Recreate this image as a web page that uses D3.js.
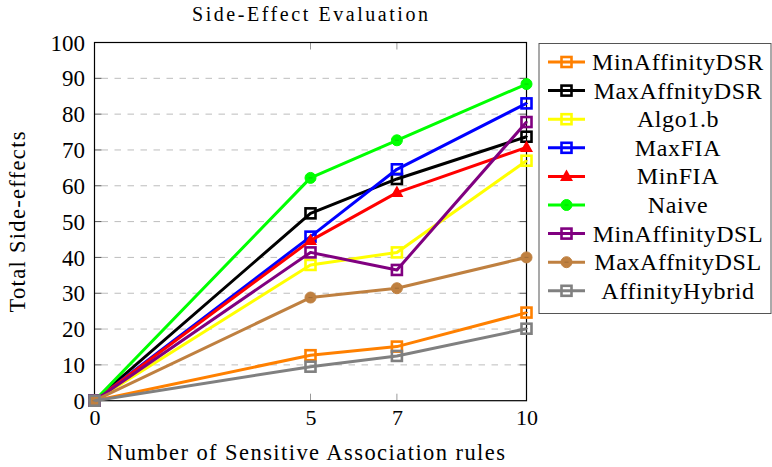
<!DOCTYPE html>
<html><head><meta charset="utf-8">
<script src="https://cdn.jsdelivr.net/npm/d3@7"></script>
<style>body{margin:0;background:#fff;}</style>
</head><body>
<svg id="c" width="772" height="467"></svg>
<script>
const FONT = "'Liberation Serif', 'Times New Roman', serif";
const xValues = [0, 5, 7, 10];
const xTicks = [0, 5, 7, 10];
const yTicks = [0, 10, 20, 30, 40, 50, 60, 70, 80, 90, 100];
const seriesNames = ["MinAffinityDSR","MaxAffnityDSR","Algo1.b","MaxFIA","MinFIA","Naive","MinAffinityDSL","MaxAffnityDSL","AffinityHybrid"];
const seriesColors = ["#ff8000","#000000","#ffff00","#0000ff","#ff0000","#00ff00","#800080","#bf8040","#808080"];
const seriesMarkers = ["square","square","square","square","triangle","circle","square","circle","square"];
const minAffinityDSR = [0, 12.7, 15.1, 24.6];
const maxAffnityDSR  = [0, 52.3, 61.9, 73.7];
const algo1b         = [0, 37.9, 41.4, 67.0];
const maxFIA         = [0, 45.8, 64.6, 83.0];
const minFIA         = [0, 44.7, 58.1, 70.7];
const naive          = [0, 62.2, 72.7, 88.4];
const minAffinityDSL = [0, 41.4, 36.5, 77.8];
const maxAffnityDSL  = [0, 28.8, 31.4, 40.0];
const affinityHybrid = [0, 9.5, 12.5, 20.1];
const seriesValues = [minAffinityDSR, maxAffnityDSR, algo1b, maxFIA, minFIA, naive, minAffinityDSL, maxAffnityDSL, affinityHybrid];

const svg = d3.select("#c");
const L = 94.5, R = 526.5, T = 42.5, B = 400.7;
const x = d3.scaleLinear().domain([0, 10]).range([L, R]);
const y = d3.scaleLinear().domain([0, 100]).range([B, T]);

// grid
svg.append("g").selectAll("line").data(yTicks.filter(d => d > 0 && d < 100)).join("line")
  .attr("x1", L + 7).attr("x2", R - 7).attr("y1", d => y(d)).attr("y2", d => y(d))
  .attr("stroke", "#bdbdbd").attr("stroke-width", 1).attr("stroke-dasharray", "6.5,6.5");

// axes
const ax = d3.axisBottom(x).tickValues(xTicks).tickSize(0).tickPadding(24).tickFormat(d3.format("d"));
const gx = svg.append("g").attr("transform", `translate(0,${B})`).call(ax);
gx.attr("font-family", FONT).attr("font-size", 22);
gx.select(".domain").remove();
gx.selectAll("text").attr("dy", "0");
const ay = d3.axisLeft(y).tickValues(yTicks).tickSize(0).tickPadding(9.5);
const gy = svg.append("g").attr("transform", `translate(${L},0)`).call(ay);
gy.attr("font-family", FONT).attr("font-size", 23);
gy.select(".domain").remove();
gy.selectAll("text").attr("dy", "0.33em");

// inner ticks
const tk = svg.append("g").attr("stroke", "#555").attr("stroke-width", 1);
yTicks.filter(d => d > 0 && d < 100).forEach(d => {
  tk.append("line").attr("x1", L).attr("x2", L + 7).attr("y1", y(d)).attr("y2", y(d));
  tk.append("line").attr("x1", R).attr("x2", R - 7).attr("y1", y(d)).attr("y2", y(d));
});
xTicks.filter(d => d > 0 && d < 10).forEach(d => {
  tk.append("line").attr("x1", x(d)).attr("x2", x(d)).attr("y1", B).attr("y2", B - 7).attr("stroke", "#999");
  tk.append("line").attr("x1", x(d)).attr("x2", x(d)).attr("y1", T).attr("y2", T + 7).attr("stroke", "#999");
});

svg.append("rect").attr("x", L).attr("y", T).attr("width", R - L).attr("height", B - T)
  .attr("fill", "none").attr("stroke", "#000").attr("stroke-width", 1.2);

// lines and markers
const line = d3.line().x((d, i) => x(xValues[i])).y(d => y(d));
function marker(g, type, color, cx, cy) {
  if (type === "square") {
    g.append("rect").attr("x", cx - 5).attr("y", cy - 5).attr("width", 10).attr("height", 10)
      .attr("fill", "none").attr("stroke", color).attr("stroke-width", 2.6);
    g.append("line").attr("x1", cx - 1.5).attr("x2", cx + 1.5).attr("y1", cy).attr("y2", cy).attr("stroke", color).attr("stroke-width", 1);
  } else if (type === "circle") {
    g.append("circle").attr("cx", cx).attr("cy", cy).attr("r", 5.5)
      .attr("fill", color).attr("stroke", color).attr("stroke-width", 1);
    g.append("line").attr("x1", cx - 2).attr("x2", cx + 2).attr("y1", cy).attr("y2", cy).attr("stroke", d3.color(color).darker(0.6)).attr("stroke-width", 0.8);
  } else {
    g.append("path").attr("d", `M${cx},${cy - 7}L${cx + 6.5},${cy + 4.5}L${cx - 6.5},${cy + 4.5}Z`).attr("fill", color);
  }
}
const plot = svg.append("g");
seriesValues.forEach((vals, s) => {
  const g = plot.append("g");
  g.append("path").datum(vals).attr("d", line).attr("fill", "none")
    .attr("stroke", seriesColors[s]).attr("stroke-width", 3).attr("stroke-linejoin", "round");
  vals.forEach((v, i) => marker(g, seriesMarkers[s], seriesColors[s], x(xValues[i]), y(v)));
});

// title and axis labels
svg.append("text").attr("x", 310).attr("y", 20.5).attr("text-anchor", "middle").attr("font-family", FONT).attr("font-size", 20)
  .attr("textLength", 236).attr("lengthAdjust", "spacing").text("Side-Effect Evaluation");
svg.append("text").attr("x", 306).attr("y", 460).attr("text-anchor", "middle").attr("font-family", FONT).attr("font-size", 22.5)
  .attr("textLength", 398).attr("lengthAdjust", "spacing").text("Number of Sensitive Association rules");
svg.append("text").attr("transform", `translate(25,222) rotate(-90)`).attr("text-anchor", "middle").attr("font-family", FONT).attr("font-size", 22.5)
  .attr("textLength", 181).attr("lengthAdjust", "spacing").text("Total Side-effects");

// legend
const lg = svg.append("g");
lg.append("rect").attr("x", 539).attr("y", 43.5).attr("width", 232).attr("height", 270)
  .attr("fill", "#fff").attr("stroke", "#555").attr("stroke-width", 1);
seriesNames.forEach((n, s) => {
  const cy = 62 + s * 28.6;
  const g = lg.append("g");
  g.append("line").attr("x1", 548).attr("x2", 585).attr("y1", cy).attr("y2", cy).attr("stroke", seriesColors[s]).attr("stroke-width", 3);
  marker(g, seriesMarkers[s], seriesColors[s], 566.5, cy);
  g.append("text").attr("x", 678).attr("y", cy).attr("dy", "0.33em").attr("text-anchor", "middle").attr("font-family", FONT)
    .attr("font-size", 24).attr("letter-spacing", 0.6).text(n);
});
</script>
</body></html>
